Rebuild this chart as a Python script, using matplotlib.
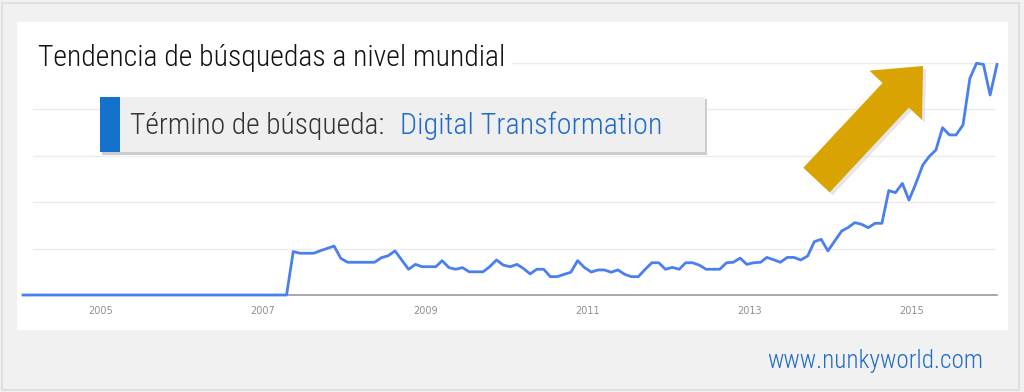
import matplotlib
matplotlib.use("Agg")
import numpy as np
import pandas as pd
import matplotlib.pyplot as plt
from matplotlib.patches import Rectangle, FancyArrow
from matplotlib.transforms import IdentityTransform

# Monthly search interest (Google Trends, 0-100), Jan 2004 .. Jan 2016
start_month = "2004-01-01"
zeros_before = [0] * 40
interest = zeros_before + [
    18.7, 18.0, 18.0, 18.0, 19.1, 20.1, 21.1, 15.8, 14.1, 14.1,
    14.1, 14.1, 14.1, 16.1, 16.9, 19.0, 15.0, 11.1, 13.2, 12.2,
    12.2, 12.2, 14.8, 11.8, 11.1, 11.8, 10.0, 10.0, 10.0, 12.2,
    15.1, 12.9, 12.2, 13.2, 11.5, 9.1, 11.1, 11.1, 7.9, 7.9,
    8.9, 9.8, 14.8, 11.9, 9.9, 10.8, 10.8, 9.8, 10.8, 8.9,
    7.9, 7.9, 11.1, 13.9, 13.9, 11.1, 11.9, 11.1, 13.9, 13.9,
    12.9, 11.1, 11.1, 11.1, 13.9, 14.1, 15.9, 13.2, 13.9, 14.1,
    16.2, 15.2, 14.1, 16.2, 16.2, 15.1, 16.8, 23.0, 24.0, 19.0,
    23.3, 27.6, 29.0, 31.2, 30.5, 29.0, 30.9, 30.9, 45.0, 44.1,
    48.1, 40.9, 48.1, 56.0, 59.6, 62.5, 72.1, 69.0, 69.0, 73.3,
    93.4, 99.9, 99.4, 86.2, 99.4,
]
tick_years = [2005, 2007, 2009, 2011, 2013, 2015]
grid_values = [20, 40, 60, 80, 100]

title = "Tendencia de búsquedas a nivel mundial"
term_label = "Término de búsqueda:"
term = "Digital Transformation"
site = "www.nunkyworld.com"

dates = pd.date_range(start_month, periods=len(interest), freq="MS")

narrow = ["Roboto Condensed", "Liberation Sans Narrow", "Roboto", "DejaVu Sans"]
line_blue = "#4a7ff0"
text_blue = "#1f6cc8"

fig = plt.figure(figsize=(10.24, 3.92), dpi=100)
fig.patch.set_facecolor("#f1f1f1")
renderer = fig.canvas.get_renderer()


def fit_width(t, width_px):
    # scale the font so the text spans the same width as in the reference
    w = t.get_window_extent(renderer).width
    t.set_fontsize(t.get_fontsize() * width_px / w)


# outer frame and white panel
W, H = 1024, 392
fig.patches.append(Rectangle((2 / W, 2 / H), 1017 / W, 387 / H, transform=fig.transFigure,
                             facecolor="none", edgecolor="#dcdcdc", lw=1.2, zorder=-2))
fig.patches.append(Rectangle((17 / W, 1 - 330 / H), 991 / W, 308 / H, transform=fig.transFigure,
                             facecolor="white", edgecolor="none", zorder=-1))

ax = fig.add_axes([23 / W, 1 - 295 / H, 974 / W, 232 / H])
ax.set_facecolor("none")
for g in grid_values:
    ax.axhline(g, xmin=0.01, xmax=0.997, color="#ebebeb", lw=1, zorder=0, clip_on=False)
ax.plot(dates, interest, color=line_blue, lw=2.0, clip_on=False, zorder=3,
        solid_joinstyle="round")
ax.set_ylim(0, 100)
ax.set_xlim(dates[0], dates[-1])
ax.set_yticks([])
# Google places the year labels just before the January mark
ax.set_xticks([pd.Timestamp(f"{y - 1}-12-15") for y in tick_years])
ax.set_xticklabels([str(y) for y in tick_years], fontsize=7, color="#909090",
                   family="DejaVu Sans")
ax.tick_params(axis="x", length=0, pad=8)
for s in ["top", "right", "left"]:
    ax.spines[s].set_visible(False)
ax.spines["bottom"].set_color("#9a9a9a")
ax.spines["bottom"].set_linewidth(1.2)

# title with white background
t_title = fig.text(38 / W, 1 - 58 / H, title, fontsize=22, color="#111111", family=narrow,
                   fontstretch="condensed", fontweight="light", va="center", ha="left",
                   zorder=5, bbox=dict(facecolor="white", edgecolor="none", pad=5))
fit_width(t_title, 467)

# search-term box
fig.patches.append(Rectangle((102 / W, 1 - 155 / H), 605 / W, 56 / H, transform=fig.transFigure,
                             facecolor="#cdcdcd", edgecolor="none", zorder=4))
fig.patches.append(Rectangle((100 / W, 1 - 152 / H), 605 / W, 55 / H, transform=fig.transFigure,
                             facecolor="#efefef", edgecolor="none", zorder=5))
fig.patches.append(Rectangle((100 / W, 1 - 152 / H), 20 / W, 55 / H, transform=fig.transFigure,
                             facecolor="#1472cc", edgecolor="none", zorder=6))
t_label = fig.text(130 / W, 1 - 126 / H, term_label, fontsize=21, color="#333333",
                   family=narrow, fontstretch="condensed", fontweight="light",
                   va="center", ha="left", zorder=7)
t_term = fig.text(400 / W, 1 - 126 / H, term, fontsize=21, color=text_blue, family=narrow,
                  fontstretch="condensed", fontweight="light", va="center", ha="left",
                  zorder=7)
fit_width(t_label, 254)
fit_width(t_term, 261)

# big golden arrow
tail_x, tail_y = 816.5, H - 180
tip_x, tip_y = 923, H - 66
shadow = FancyArrow(tail_x + 3, tail_y - 3, tip_x - tail_x, tip_y - tail_y, width=36,
                    head_width=72, head_length=40, length_includes_head=True,
                    transform=IdentityTransform(), facecolor="#d6d6d6", edgecolor="none",
                    alpha=0.6, zorder=8)
arrow = FancyArrow(tail_x, tail_y, tip_x - tail_x, tip_y - tail_y, width=36,
                   head_width=72, head_length=40, length_includes_head=True,
                   transform=IdentityTransform(), facecolor="#d9a302", edgecolor="none",
                   zorder=9)
fig.patches.append(shadow)
fig.patches.append(arrow)

t_site = fig.text(983 / W, 1 - 361 / H, site, fontsize=17, color=text_blue, family=narrow,
                  fontstretch="condensed", fontweight="light", va="center", ha="right")
fit_width(t_site, 216)

fig.savefig("out.png", dpi=100, facecolor=fig.get_facecolor())
